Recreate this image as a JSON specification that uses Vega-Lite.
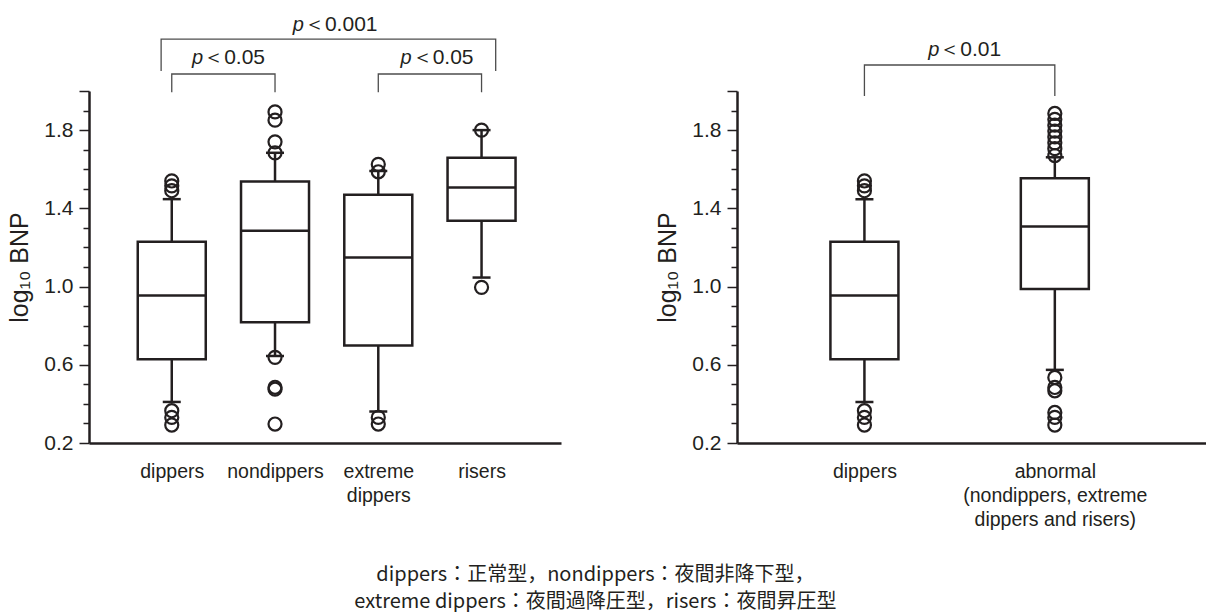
{
  "$schema": "https://vega.github.io/schema/vega-lite/v6.json",
  "background": "white",
  "padding": {"left": 7, "top": 14, "right": 0, "bottom": 0},
  "datasets": {
    "statsL": [
      {"name": "dippers", "pos": 1, "lower": 0.41, "q1": 0.628, "median": 0.954, "q3": 1.229, "upper": 1.447},
      {"name": "nondippers", "pos": 2, "lower": 0.645, "q1": 0.818, "median": 1.285, "q3": 1.537, "upper": 1.684},
      {"name": "extreme dippers", "pos": 3, "lower": 0.361, "q1": 0.699, "median": 1.149, "q3": 1.469, "upper": 1.591},
      {"name": "risers", "pos": 4, "lower": 1.046, "q1": 1.336, "median": 1.506, "q3": 1.659, "upper": 1.8}
    ],
    "outL": [
      {"name": "dippers", "pos": 1, "value": 1.54},
      {"name": "dippers", "pos": 1, "value": 1.515},
      {"name": "dippers", "pos": 1, "value": 1.49},
      {"name": "dippers", "pos": 1, "value": 0.365},
      {"name": "dippers", "pos": 1, "value": 0.331},
      {"name": "dippers", "pos": 1, "value": 0.292},
      {"name": "nondippers", "pos": 2, "value": 1.893},
      {"name": "nondippers", "pos": 2, "value": 1.851},
      {"name": "nondippers", "pos": 2, "value": 1.74},
      {"name": "nondippers", "pos": 2, "value": 1.684},
      {"name": "nondippers", "pos": 2, "value": 0.638},
      {"name": "nondippers", "pos": 2, "value": 0.485},
      {"name": "nondippers", "pos": 2, "value": 0.475},
      {"name": "nondippers", "pos": 2, "value": 0.297},
      {"name": "extreme dippers", "pos": 3, "value": 1.625},
      {"name": "extreme dippers", "pos": 3, "value": 1.587},
      {"name": "extreme dippers", "pos": 3, "value": 0.331},
      {"name": "extreme dippers", "pos": 3, "value": 0.297},
      {"name": "risers", "pos": 4, "value": 1.8},
      {"name": "risers", "pos": 4, "value": 0.996}
    ],
    "brL": [
      {"bracket": "all", "ord": 0, "pos": 0.897, "value": 2.102},
      {"bracket": "all", "ord": 1, "pos": 0.897, "value": 2.265},
      {"bracket": "all", "ord": 2, "pos": 4.137, "value": 2.265},
      {"bracket": "all", "ord": 3, "pos": 4.137, "value": 2.102},
      {"bracket": "d-n", "ord": 0, "pos": 1, "value": 1.994},
      {"bracket": "d-n", "ord": 1, "pos": 1, "value": 2.087},
      {"bracket": "d-n", "ord": 2, "pos": 2, "value": 2.087},
      {"bracket": "d-n", "ord": 3, "pos": 2, "value": 1.994},
      {"bracket": "e-r", "ord": 0, "pos": 3, "value": 1.994},
      {"bracket": "e-r", "ord": 1, "pos": 3, "value": 2.087},
      {"bracket": "e-r", "ord": 2, "pos": 4, "value": 2.087},
      {"bracket": "e-r", "ord": 3, "pos": 4, "value": 1.994}
    ],
    "lblL": [
      {"pos": 2.28, "value": 2.306, "p": "p", "rest": "＜0.001"},
      {"pos": 1.304, "value": 2.138, "p": "p", "rest": "＜0.05"},
      {"pos": 3.323, "value": 2.138, "p": "p", "rest": "＜0.05"}
    ],
    "statsR": [
      {"name": "dippers", "pos": 1, "lower": 0.41, "q1": 0.628, "median": 0.954, "q3": 1.229, "upper": 1.447},
      {"name": "abnormal", "pos": 2, "lower": 0.574, "q1": 0.988, "median": 1.307, "q3": 1.554, "upper": 1.661}
    ],
    "outR": [
      {"name": "dippers", "pos": 1, "value": 1.54},
      {"name": "dippers", "pos": 1, "value": 1.515},
      {"name": "dippers", "pos": 1, "value": 1.49},
      {"name": "dippers", "pos": 1, "value": 0.365},
      {"name": "dippers", "pos": 1, "value": 0.331},
      {"name": "dippers", "pos": 1, "value": 0.292},
      {"name": "abnormal", "pos": 2, "value": 1.885},
      {"name": "abnormal", "pos": 2, "value": 1.855},
      {"name": "abnormal", "pos": 2, "value": 1.825},
      {"name": "abnormal", "pos": 2, "value": 1.795},
      {"name": "abnormal", "pos": 2, "value": 1.765},
      {"name": "abnormal", "pos": 2, "value": 1.735},
      {"name": "abnormal", "pos": 2, "value": 1.705},
      {"name": "abnormal", "pos": 2, "value": 1.67},
      {"name": "abnormal", "pos": 2, "value": 0.535},
      {"name": "abnormal", "pos": 2, "value": 0.484},
      {"name": "abnormal", "pos": 2, "value": 0.467},
      {"name": "abnormal", "pos": 2, "value": 0.356},
      {"name": "abnormal", "pos": 2, "value": 0.331},
      {"name": "abnormal", "pos": 2, "value": 0.292}
    ],
    "brR": [
      {"bracket": "d-a", "ord": 0, "pos": 1, "value": 1.974},
      {"bracket": "d-a", "ord": 1, "pos": 1, "value": 2.133},
      {"bracket": "d-a", "ord": 2, "pos": 2, "value": 2.133},
      {"bracket": "d-a", "ord": 3, "pos": 2, "value": 1.974}
    ],
    "lblR": [
      {"pos": 1.393, "value": 2.178, "p": "p", "rest": "＜0.01"}
    ]
  },
  "title": {
    "text": ["dippers：正常型，nondippers：夜間非降下型，", "extreme dippers：夜間過降圧型，risers：夜間昇圧型"],
    "orient": "bottom",
    "anchor": "middle",
    "font": "Noto Sans CJK JP",
    "fontSize": 20,
    "fontWeight": "normal",
    "color": "#231f20",
    "lineHeight": 27,
    "offset": 36,
    "dx": -12
  },
  "spacing": 94,
  "hconcat": [
    {
      "width": 472,
      "height": 352,
      "encoding": {
        "x": {"field": "pos", "type": "quantitative", "scale": {"domain": [0.247, 4.721], "nice": false, "zero": false},
          "axis": {"title": null, "values": [1, 2, 3, 4], "labelExpr": "datum.value == 1 ? 'dippers' : datum.value == 2 ? 'nondippers' : datum.value == 3 ? ['extreme', 'dippers'] : 'risers'"}}
      },
      "layer": [
        {"data": {"name": "statsL"}, "mark": {"type": "rule", "color": "#231f20", "strokeWidth": 2.5},
          "encoding": {"y": {"field": "lower", "type": "quantitative", "scale": {"domain": [0.2, 2.0], "nice": false, "zero": false},
            "axis": {"title": "log₁₀ BNP", "values": [0.2,0.3,0.4,0.5,0.6,0.7,0.8,0.9,1.0,1.1,1.2,1.3,1.4,1.5,1.6,1.7,1.8,1.9,2.0], "labelExpr": "indexof(['0.2','0.6','1.0','1.4','1.8'], format(datum.value, '.1f')) >= 0 ? format(datum.value, '.1f') : ''", "tickSize": {"condition": {"test": "indexof(['0.2','0.6','1.0','1.4','1.8','2.0'], format(datum.value, '.1f')) >= 0", "value": 10}, "value": 6}}},
            "y2": {"field": "q1"}}},
        {"data": {"name": "statsL"}, "mark": {"type": "rule", "color": "#231f20", "strokeWidth": 2.5},
          "encoding": {"y": {"field": "q3", "type": "quantitative", "scale": {"domain": [0.2, 2.0], "nice": false, "zero": false},
            "axis": {"title": "log₁₀ BNP", "values": [0.2,0.3,0.4,0.5,0.6,0.7,0.8,0.9,1.0,1.1,1.2,1.3,1.4,1.5,1.6,1.7,1.8,1.9,2.0], "labelExpr": "indexof(['0.2','0.6','1.0','1.4','1.8'], format(datum.value, '.1f')) >= 0 ? format(datum.value, '.1f') : ''", "tickSize": {"condition": {"test": "indexof(['0.2','0.6','1.0','1.4','1.8','2.0'], format(datum.value, '.1f')) >= 0", "value": 10}, "value": 6}}},
            "y2": {"field": "upper"}}},
        {"data": {"name": "statsL"}, "mark": {"type": "tick", "orient": "horizontal", "size": 18, "thickness": 2.5, "color": "#231f20", "opacity": 1},
          "encoding": {"y": {"field": "lower", "type": "quantitative", "scale": {"domain": [0.2, 2.0], "nice": false, "zero": false},
            "axis": {"title": "log₁₀ BNP", "values": [0.2,0.3,0.4,0.5,0.6,0.7,0.8,0.9,1.0,1.1,1.2,1.3,1.4,1.5,1.6,1.7,1.8,1.9,2.0], "labelExpr": "indexof(['0.2','0.6','1.0','1.4','1.8'], format(datum.value, '.1f')) >= 0 ? format(datum.value, '.1f') : ''", "tickSize": {"condition": {"test": "indexof(['0.2','0.6','1.0','1.4','1.8','2.0'], format(datum.value, '.1f')) >= 0", "value": 10}, "value": 6}}}}},
        {"data": {"name": "statsL"}, "mark": {"type": "tick", "orient": "horizontal", "size": 18, "thickness": 2.5, "color": "#231f20", "opacity": 1},
          "encoding": {"y": {"field": "upper", "type": "quantitative", "scale": {"domain": [0.2, 2.0], "nice": false, "zero": false},
            "axis": {"title": "log₁₀ BNP", "values": [0.2,0.3,0.4,0.5,0.6,0.7,0.8,0.9,1.0,1.1,1.2,1.3,1.4,1.5,1.6,1.7,1.8,1.9,2.0], "labelExpr": "indexof(['0.2','0.6','1.0','1.4','1.8'], format(datum.value, '.1f')) >= 0 ? format(datum.value, '.1f') : ''", "tickSize": {"condition": {"test": "indexof(['0.2','0.6','1.0','1.4','1.8','2.0'], format(datum.value, '.1f')) >= 0", "value": 10}, "value": 6}}}}},
        {"data": {"name": "statsL"}, "mark": {"type": "bar", "size": 68, "fill": "white", "stroke": "#231f20", "strokeWidth": 2.5},
          "encoding": {"y": {"field": "q1", "type": "quantitative", "scale": {"domain": [0.2, 2.0], "nice": false, "zero": false},
            "axis": {"title": "log₁₀ BNP", "values": [0.2,0.3,0.4,0.5,0.6,0.7,0.8,0.9,1.0,1.1,1.2,1.3,1.4,1.5,1.6,1.7,1.8,1.9,2.0], "labelExpr": "indexof(['0.2','0.6','1.0','1.4','1.8'], format(datum.value, '.1f')) >= 0 ? format(datum.value, '.1f') : ''", "tickSize": {"condition": {"test": "indexof(['0.2','0.6','1.0','1.4','1.8','2.0'], format(datum.value, '.1f')) >= 0", "value": 10}, "value": 6}}},
            "y2": {"field": "q3"}}},
        {"data": {"name": "statsL"}, "mark": {"type": "tick", "orient": "horizontal", "size": 68, "thickness": 2.5, "color": "#231f20", "opacity": 1},
          "encoding": {"y": {"field": "median", "type": "quantitative", "scale": {"domain": [0.2, 2.0], "nice": false, "zero": false},
            "axis": {"title": "log₁₀ BNP", "values": [0.2,0.3,0.4,0.5,0.6,0.7,0.8,0.9,1.0,1.1,1.2,1.3,1.4,1.5,1.6,1.7,1.8,1.9,2.0], "labelExpr": "indexof(['0.2','0.6','1.0','1.4','1.8'], format(datum.value, '.1f')) >= 0 ? format(datum.value, '.1f') : ''", "tickSize": {"condition": {"test": "indexof(['0.2','0.6','1.0','1.4','1.8','2.0'], format(datum.value, '.1f')) >= 0", "value": 10}, "value": 6}}}}},
        {"data": {"name": "outL"}, "mark": {"type": "point", "shape": "circle", "filled": false, "size": 170, "strokeWidth": 2.2, "color": "#231f20", "opacity": 1},
          "encoding": {"y": {"field": "value", "type": "quantitative", "scale": {"domain": [0.2, 2.0], "nice": false, "zero": false},
            "axis": {"title": "log₁₀ BNP", "values": [0.2,0.3,0.4,0.5,0.6,0.7,0.8,0.9,1.0,1.1,1.2,1.3,1.4,1.5,1.6,1.7,1.8,1.9,2.0], "labelExpr": "indexof(['0.2','0.6','1.0','1.4','1.8'], format(datum.value, '.1f')) >= 0 ? format(datum.value, '.1f') : ''", "tickSize": {"condition": {"test": "indexof(['0.2','0.6','1.0','1.4','1.8','2.0'], format(datum.value, '.1f')) >= 0", "value": 10}, "value": 6}}}}},
        {"data": {"name": "brL"}, "mark": {"type": "line", "color": "#4d4d4d", "strokeWidth": 1.3, "clip": false},
          "encoding": {"y": {"field": "value", "type": "quantitative", "scale": {"domain": [0.2, 2.0], "nice": false, "zero": false},
            "axis": {"title": "log₁₀ BNP", "values": [0.2,0.3,0.4,0.5,0.6,0.7,0.8,0.9,1.0,1.1,1.2,1.3,1.4,1.5,1.6,1.7,1.8,1.9,2.0], "labelExpr": "indexof(['0.2','0.6','1.0','1.4','1.8'], format(datum.value, '.1f')) >= 0 ? format(datum.value, '.1f') : ''", "tickSize": {"condition": {"test": "indexof(['0.2','0.6','1.0','1.4','1.8','2.0'], format(datum.value, '.1f')) >= 0", "value": 10}, "value": 6}}},
            "detail": {"field": "bracket"}, "order": {"field": "ord"}}},
        {"data": {"name": "lblL"}, "mark": {"type": "text", "align": "right", "baseline": "alphabetic", "font": "Liberation Sans", "fontStyle": "italic", "fontSize": 20, "color": "#231f20", "clip": false},
          "encoding": {"y": {"field": "value", "type": "quantitative", "scale": {"domain": [0.2, 2.0], "nice": false, "zero": false},
            "axis": {"title": "log₁₀ BNP", "values": [0.2,0.3,0.4,0.5,0.6,0.7,0.8,0.9,1.0,1.1,1.2,1.3,1.4,1.5,1.6,1.7,1.8,1.9,2.0], "labelExpr": "indexof(['0.2','0.6','1.0','1.4','1.8'], format(datum.value, '.1f')) >= 0 ? format(datum.value, '.1f') : ''", "tickSize": {"condition": {"test": "indexof(['0.2','0.6','1.0','1.4','1.8','2.0'], format(datum.value, '.1f')) >= 0", "value": 10}, "value": 6}}},
            "text": {"field": "p"}}},
        {"data": {"name": "lblL"}, "mark": {"type": "text", "align": "left", "baseline": "alphabetic", "font": "Liberation Sans Narrow, Liberation Sans", "fontSize": 21, "color": "#231f20", "clip": false},
          "encoding": {"y": {"field": "value", "type": "quantitative", "scale": {"domain": [0.2, 2.0], "nice": false, "zero": false},
            "axis": {"title": "log₁₀ BNP", "values": [0.2,0.3,0.4,0.5,0.6,0.7,0.8,0.9,1.0,1.1,1.2,1.3,1.4,1.5,1.6,1.7,1.8,1.9,2.0], "labelExpr": "indexof(['0.2','0.6','1.0','1.4','1.8'], format(datum.value, '.1f')) >= 0 ? format(datum.value, '.1f') : ''", "tickSize": {"condition": {"test": "indexof(['0.2','0.6','1.0','1.4','1.8','2.0'], format(datum.value, '.1f')) >= 0", "value": 10}, "value": 6}}},
            "text": {"field": "rest"}}}
      ]
    },
    {
      "width": 470,
      "height": 352,
      "encoding": {
        "x": {"field": "pos", "type": "quantitative", "scale": {"domain": [0.357, 2.773], "nice": false, "zero": false},
          "axis": {"title": null, "values": [1, 2], "labelExpr": "datum.value == 1 ? 'dippers' : ['abnormal', '(nondippers, extreme', 'dippers and risers)']"}}
      },
      "layer": [
        {"data": {"name": "statsR"}, "mark": {"type": "rule", "color": "#231f20", "strokeWidth": 2.5},
          "encoding": {"y": {"field": "lower", "type": "quantitative", "scale": {"domain": [0.2, 2.0], "nice": false, "zero": false},
            "axis": {"title": "log₁₀ BNP", "values": [0.2,0.3,0.4,0.5,0.6,0.7,0.8,0.9,1.0,1.1,1.2,1.3,1.4,1.5,1.6,1.7,1.8,1.9,2.0], "labelExpr": "indexof(['0.2','0.6','1.0','1.4','1.8'], format(datum.value, '.1f')) >= 0 ? format(datum.value, '.1f') : ''", "tickSize": {"condition": {"test": "indexof(['0.2','0.6','1.0','1.4','1.8','2.0'], format(datum.value, '.1f')) >= 0", "value": 10}, "value": 6}}},
            "y2": {"field": "q1"}}},
        {"data": {"name": "statsR"}, "mark": {"type": "rule", "color": "#231f20", "strokeWidth": 2.5},
          "encoding": {"y": {"field": "q3", "type": "quantitative", "scale": {"domain": [0.2, 2.0], "nice": false, "zero": false},
            "axis": {"title": "log₁₀ BNP", "values": [0.2,0.3,0.4,0.5,0.6,0.7,0.8,0.9,1.0,1.1,1.2,1.3,1.4,1.5,1.6,1.7,1.8,1.9,2.0], "labelExpr": "indexof(['0.2','0.6','1.0','1.4','1.8'], format(datum.value, '.1f')) >= 0 ? format(datum.value, '.1f') : ''", "tickSize": {"condition": {"test": "indexof(['0.2','0.6','1.0','1.4','1.8','2.0'], format(datum.value, '.1f')) >= 0", "value": 10}, "value": 6}}},
            "y2": {"field": "upper"}}},
        {"data": {"name": "statsR"}, "mark": {"type": "tick", "orient": "horizontal", "size": 18, "thickness": 2.5, "color": "#231f20", "opacity": 1},
          "encoding": {"y": {"field": "lower", "type": "quantitative", "scale": {"domain": [0.2, 2.0], "nice": false, "zero": false},
            "axis": {"title": "log₁₀ BNP", "values": [0.2,0.3,0.4,0.5,0.6,0.7,0.8,0.9,1.0,1.1,1.2,1.3,1.4,1.5,1.6,1.7,1.8,1.9,2.0], "labelExpr": "indexof(['0.2','0.6','1.0','1.4','1.8'], format(datum.value, '.1f')) >= 0 ? format(datum.value, '.1f') : ''", "tickSize": {"condition": {"test": "indexof(['0.2','0.6','1.0','1.4','1.8','2.0'], format(datum.value, '.1f')) >= 0", "value": 10}, "value": 6}}}}},
        {"data": {"name": "statsR"}, "mark": {"type": "tick", "orient": "horizontal", "size": 18, "thickness": 2.5, "color": "#231f20", "opacity": 1},
          "encoding": {"y": {"field": "upper", "type": "quantitative", "scale": {"domain": [0.2, 2.0], "nice": false, "zero": false},
            "axis": {"title": "log₁₀ BNP", "values": [0.2,0.3,0.4,0.5,0.6,0.7,0.8,0.9,1.0,1.1,1.2,1.3,1.4,1.5,1.6,1.7,1.8,1.9,2.0], "labelExpr": "indexof(['0.2','0.6','1.0','1.4','1.8'], format(datum.value, '.1f')) >= 0 ? format(datum.value, '.1f') : ''", "tickSize": {"condition": {"test": "indexof(['0.2','0.6','1.0','1.4','1.8','2.0'], format(datum.value, '.1f')) >= 0", "value": 10}, "value": 6}}}}},
        {"data": {"name": "statsR"}, "mark": {"type": "bar", "size": 68, "fill": "white", "stroke": "#231f20", "strokeWidth": 2.5},
          "encoding": {"y": {"field": "q1", "type": "quantitative", "scale": {"domain": [0.2, 2.0], "nice": false, "zero": false},
            "axis": {"title": "log₁₀ BNP", "values": [0.2,0.3,0.4,0.5,0.6,0.7,0.8,0.9,1.0,1.1,1.2,1.3,1.4,1.5,1.6,1.7,1.8,1.9,2.0], "labelExpr": "indexof(['0.2','0.6','1.0','1.4','1.8'], format(datum.value, '.1f')) >= 0 ? format(datum.value, '.1f') : ''", "tickSize": {"condition": {"test": "indexof(['0.2','0.6','1.0','1.4','1.8','2.0'], format(datum.value, '.1f')) >= 0", "value": 10}, "value": 6}}},
            "y2": {"field": "q3"}}},
        {"data": {"name": "statsR"}, "mark": {"type": "tick", "orient": "horizontal", "size": 68, "thickness": 2.5, "color": "#231f20", "opacity": 1},
          "encoding": {"y": {"field": "median", "type": "quantitative", "scale": {"domain": [0.2, 2.0], "nice": false, "zero": false},
            "axis": {"title": "log₁₀ BNP", "values": [0.2,0.3,0.4,0.5,0.6,0.7,0.8,0.9,1.0,1.1,1.2,1.3,1.4,1.5,1.6,1.7,1.8,1.9,2.0], "labelExpr": "indexof(['0.2','0.6','1.0','1.4','1.8'], format(datum.value, '.1f')) >= 0 ? format(datum.value, '.1f') : ''", "tickSize": {"condition": {"test": "indexof(['0.2','0.6','1.0','1.4','1.8','2.0'], format(datum.value, '.1f')) >= 0", "value": 10}, "value": 6}}}}},
        {"data": {"name": "outR"}, "mark": {"type": "point", "shape": "circle", "filled": false, "size": 170, "strokeWidth": 2.2, "color": "#231f20", "opacity": 1},
          "encoding": {"y": {"field": "value", "type": "quantitative", "scale": {"domain": [0.2, 2.0], "nice": false, "zero": false},
            "axis": {"title": "log₁₀ BNP", "values": [0.2,0.3,0.4,0.5,0.6,0.7,0.8,0.9,1.0,1.1,1.2,1.3,1.4,1.5,1.6,1.7,1.8,1.9,2.0], "labelExpr": "indexof(['0.2','0.6','1.0','1.4','1.8'], format(datum.value, '.1f')) >= 0 ? format(datum.value, '.1f') : ''", "tickSize": {"condition": {"test": "indexof(['0.2','0.6','1.0','1.4','1.8','2.0'], format(datum.value, '.1f')) >= 0", "value": 10}, "value": 6}}}}},
        {"data": {"name": "brR"}, "mark": {"type": "line", "color": "#4d4d4d", "strokeWidth": 1.3, "clip": false},
          "encoding": {"y": {"field": "value", "type": "quantitative", "scale": {"domain": [0.2, 2.0], "nice": false, "zero": false},
            "axis": {"title": "log₁₀ BNP", "values": [0.2,0.3,0.4,0.5,0.6,0.7,0.8,0.9,1.0,1.1,1.2,1.3,1.4,1.5,1.6,1.7,1.8,1.9,2.0], "labelExpr": "indexof(['0.2','0.6','1.0','1.4','1.8'], format(datum.value, '.1f')) >= 0 ? format(datum.value, '.1f') : ''", "tickSize": {"condition": {"test": "indexof(['0.2','0.6','1.0','1.4','1.8','2.0'], format(datum.value, '.1f')) >= 0", "value": 10}, "value": 6}}},
            "detail": {"field": "bracket"}, "order": {"field": "ord"}}},
        {"data": {"name": "lblR"}, "mark": {"type": "text", "align": "right", "baseline": "alphabetic", "font": "Liberation Sans", "fontStyle": "italic", "fontSize": 20, "color": "#231f20", "clip": false},
          "encoding": {"y": {"field": "value", "type": "quantitative", "scale": {"domain": [0.2, 2.0], "nice": false, "zero": false},
            "axis": {"title": "log₁₀ BNP", "values": [0.2,0.3,0.4,0.5,0.6,0.7,0.8,0.9,1.0,1.1,1.2,1.3,1.4,1.5,1.6,1.7,1.8,1.9,2.0], "labelExpr": "indexof(['0.2','0.6','1.0','1.4','1.8'], format(datum.value, '.1f')) >= 0 ? format(datum.value, '.1f') : ''", "tickSize": {"condition": {"test": "indexof(['0.2','0.6','1.0','1.4','1.8','2.0'], format(datum.value, '.1f')) >= 0", "value": 10}, "value": 6}}},
            "text": {"field": "p"}}},
        {"data": {"name": "lblR"}, "mark": {"type": "text", "align": "left", "baseline": "alphabetic", "font": "Liberation Sans Narrow, Liberation Sans", "fontSize": 21, "color": "#231f20", "clip": false},
          "encoding": {"y": {"field": "value", "type": "quantitative", "scale": {"domain": [0.2, 2.0], "nice": false, "zero": false},
            "axis": {"title": "log₁₀ BNP", "values": [0.2,0.3,0.4,0.5,0.6,0.7,0.8,0.9,1.0,1.1,1.2,1.3,1.4,1.5,1.6,1.7,1.8,1.9,2.0], "labelExpr": "indexof(['0.2','0.6','1.0','1.4','1.8'], format(datum.value, '.1f')) >= 0 ? format(datum.value, '.1f') : ''", "tickSize": {"condition": {"test": "indexof(['0.2','0.6','1.0','1.4','1.8','2.0'], format(datum.value, '.1f')) >= 0", "value": 10}, "value": 6}}},
            "text": {"field": "rest"}}}
      ]
    }
  ],
  "config": {
    "view": {"stroke": null},
    "axis": {"grid": false, "domainColor": "#231f20", "domainWidth": 2.5, "tickColor": "#231f20", "tickWidth": 1.5, "labelColor": "#231f20", "titleColor": "#231f20", "labelOverlap": false, "labelFlush": false, "labelBound": false, "labelLimit": 400},
    "axisY": {"labelFont": "Liberation Sans Narrow, Liberation Sans", "labelFontSize": 21, "labelPadding": 6, "titleFont": "Liberation Sans Narrow, Liberation Sans", "titleFontSize": 25, "titleFontWeight": "normal", "titlePadding": 11},
    "axisX": {"ticks": false, "tickSize": 0, "labelFont": "Liberation Sans", "labelFontSize": 19.5, "labelPadding": 19, "labelLineHeight": 24}
  }
}
